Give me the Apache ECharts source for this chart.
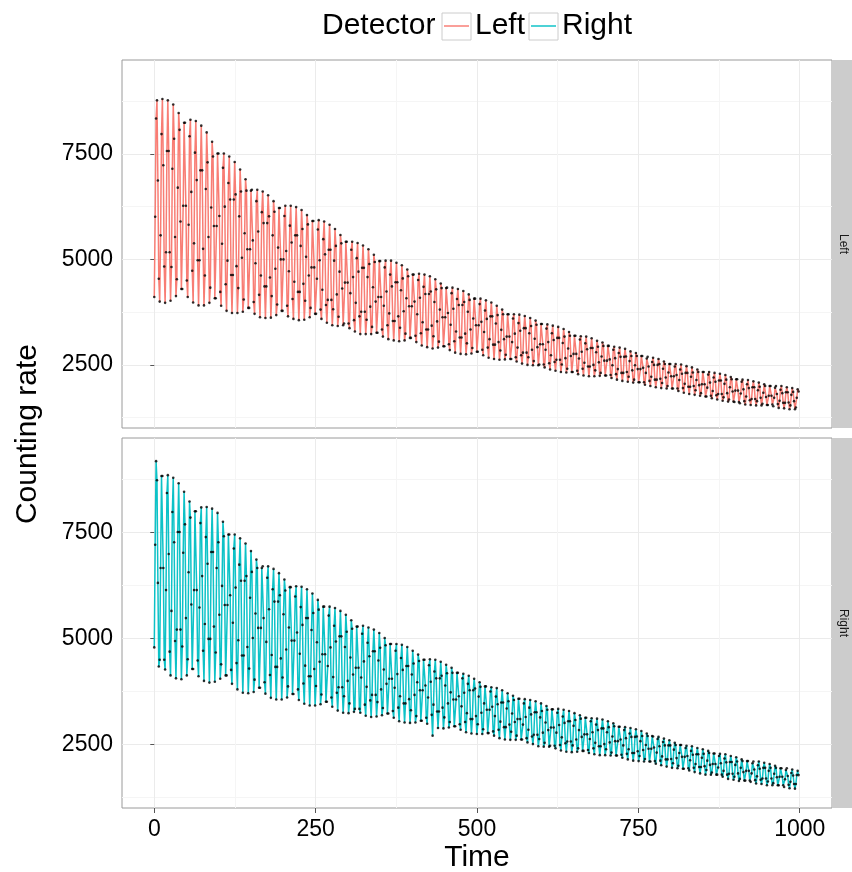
<!DOCTYPE html>
<html>
<head>
<meta charset="utf-8">
<script src="https://cdn.jsdelivr.net/npm/echarts@6/dist/echarts.min.js"></script>
<style>
  html, body { margin: 0; padding: 0; background: #ffffff; }
  #chart { width: 852px; height: 872px; }
</style>
</head>
<body>
<div id="chart"></div>
<script>
// Counting rate of the two detectors, one reading every sampleStep time units starting at 0.
const detectors = ['Left', 'Right'];
const sampleStep = 1.4;

const leftCounts = [
  4110,6010,8340,8770,6870,4540, 4000,5570,7970,8800,7230,4830, 3970,5170,7570,8770,7570,5170, 4020,4820,7150,8670,7860,5530,
  4130,4530,6700,8470,8070,5900, 4300,4300,6270,8240,8240,6270, 4500,4110,5820,7920,8310,6600, 4730,3980,5380,7530,8280,6880,
  4980,3910,4980,7110,8170,7110, 5250,3910,4620,6670,8010,7300, 5530,3970,4330,6230,7790,7440, 5790,4080,4080,5790,7510,7510,
  6030,4230,3900,5370,7170,7510, 6250,4410,3780,4970,6810,7440, 6420,4630,3730,4630,6420,7310, 6540,4840,3730,4320,6020,7130,
  6610,5040,3760,4050,5620,6900, 6630,5240,3850,3850,5240,6630, 6650,5450,3990,3710,4910,6380, 6650,5660,4160,3630,4620,6120,
  6610,5860,4360,3610,4360,5860, 6520,6020,4570,3620,4130,5570, 6380,6130,4780,3680,3930,5280, 6220,6220,5000,3780,3780,5000,
  6030,6270,5200,3900,3650,4720, 5800,6270,5400,4060,3590,4470, 5570,6240,5570,4230,3560,4230, 5320,6170,5720,4420,3570,4020,
  5060,6050,5830,4620,3630,3850, 4810,5910,5910,4810,3710,3710, 4540,5710,5930,4980,3810,3590, 4280,5480,5900,5120,3920,3500,
  4040,5230,5820,5230,4040,3440, 3820,4970,5720,5320,4170,3420, 3640,4710,5580,5380,4310,3440, 3480,4450,5420,5420,4450,3480,
  3370,4200,5230,5420,4580,3560, 3290,3970,5030,5390,4710,3650, 3230,3760,4800,5330,4800,3760, 3230,3570,4580,5240,4890,3880,
  3230,3400,4340,5110,4940,4000, 3260,3260,4110,4960,4960,4110, 3340,3170,3900,4810,4970,4240, 3440,3110,3720,4640,4970,4360,
  3540,3080,3540,4460,4920,4460, 3650,3060,3380,4270,4860,4550, 3770,3080,3240,4080,4760,4600, 3890,3140,3140,3890,4640,4640,
  4000,3190,3040,3700,4510,4660, 4090,3250,2960,3510,4350,4640, 4180,3340,2920,3340,4180,4600, 4240,3430,2890,3180,3990,4530,
  4290,3530,2910,3050,3810,4430, 4320,3630,2940,2940,3630,4320, 4330,3730,2990,2850,3450,4200, 4330,3830,3060,2790,3290,4060,
  4300,3920,3150,2760,3150,3920, 4250,3990,3240,2750,3010,3760, 4170,4040,3340,2770,2900,3600, 4070,4070,3440,2810,2810,3440,
  3940,4070,3520,2860,2730,3280, 3790,4030,3590,2910,2670,3110, 3650,3980,3650,2980,2640,2980, 3480,3900,3680,3040,2620,2840,
  3330,3810,3700,3110,2630,2740, 3170,3700,3700,3170,2640,2640, 3040,3600,3700,3240,2680,2580, 2910,3490,3690,3310,2730,2530,
  2790,3370,3660,3370,2790,2500, 2680,3250,3610,3420,2860,2490, 2590,3120,3550,3450,2920,2490, 2510,2990,3470,3470,2990,2510,
  2440,2860,3360,3460,3040,2540, 2390,2730,3250,3430,3090,2570, 2360,2620,3140,3400,3140,2620, 2330,2510,3020,3350,3170,2660,
  2320,2410,2890,3280,3190,2710, 2330,2330,2760,3190,3190,2760, 2360,2280,2650,3100,3180,2810, 2410,2250,2550,3010,3170,2870,
  2460,2230,2460,2900,3130,2900, 2500,2230,2370,2800,3070,2930, 2560,2240,2310,2700,3030,2950, 2600,2250,2250,2600,2950,2950,
  2630,2260,2190,2490,2860,2930, 2660,2280,2150,2400,2780,2910, 2690,2310,2120,2310,2690,2880, 2700,2330,2100,2220,2590,2820,
  2710,2370,2080,2150,2490,2780, 2710,2400,2090,2090,2400,2710, 2710,2430,2090,2030,2310,2650, 2690,2460,2120,2000,2220,2570,
  2670,2500,2150,1970,2150,2500, 2640,2520,2170,1950,2070,2410, 2580,2520,2200,1940,2000,2320, 2520,2520,2230,1940,1940,2230,
  2460,2520,2260,1940,1880,2140, 2390,2510,2290,1950,1840,2050, 2310,2470,2310,1980,1810,1980, 2220,2440,2320,2000,1790,1900,
  2140,2390,2330,2020,1770,1830, 2040,2330,2330,2040,1750,1750, 1960,2270,2330,2080,1770,1710, 1880,2200,2310,2100,1780,1680,
  1810,2130,2290,2130,1810,1650, 1730,2050,2260,2150,1830,1630, 1680,1970,2210,2160,1870,1630, 1620,1890,2160,2160,1890,1620,
  1590,1820,2100,2150,1920,1640, 1560,1750,2040,2140,1950,1660, 1550,1690,1970,2110,1970,1690, 1540,1640,1900,2080,1980,1720,
  1540,1580,1840,2040,2000,1740, 1550,1550,1770,2000,2000,1770, 1560,1520,1720,1960,2000,1810, 1570,1480,1650,1910,2000,1830,
  1600,1470,1600,1850,1970,1850, 1610,1450,1540,1790,1950,1860, 1640,1450,1490,1720,1920,1870
];

const rightCounts = [
  4790,7210,9180,8730,6310,4340, 4500,6660,8830,8830,6660,4500, 4270,6140,8430,8850,6990,4690, 4130,5650,7980,8790,7270,4940,
  4060,5210,7510,8660,7510,5210, 4040,4810,7020,8460,7690,5480, 4130,4510,6560,8230,7850,5800, 4280,4280,6140,8000,8000,6140,
  4480,4110,5730,7720,8090,6470, 4710,4000,5340,7390,8100,6760, 4990,3960,4990,7040,8060,7040, 5280,3980,4670,6660,7960,7270,
  5560,4050,4390,6240,7750,7410, 5790,4130,4130,5790,7450,7450, 6020,4260,3930,5370,7120,7450, 6200,4420,3800,4960,6740,7360,
  6360,4600,3720,4600,6360,7240, 6470,4800,3710,4290,5960,7060, 6570,5010,3740,4030,5590,6860, 6660,5250,3840,3840,5250,6660,
  6700,5480,3970,3700,4920,6430, 6700,5690,4140,3600,4610,6160, 6640,5870,4330,3560,4330,5870, 6540,6020,4530,3560,4080,5570,
  6390,6130,4740,3610,3870,5260, 6210,6210,4950,3690,3690,4950, 5990,6230,5140,3800,3550,4640, 5740,6220,5320,3940,3460,4360,
  5480,6160,5480,4110,3420,4110, 5200,6060,5600,4280,3420,3880, 4910,5910,5680,4450,3450,3680, 4630,5750,5750,4630,3510,3510,
  4350,5540,5750,4790,3610,3390, 4090,5300,5720,4930,3720,3300, 3850,5050,5650,5050,3850,3250, 3640,4800,5560,5160,4000,3240,
  3470,4550,5430,5230,4150,3270, 3340,4310,5280,5280,4310,3340, 3250,4080,5110,5300,4460,3440, 3180,3860,4900,5260,4580,3540,
  3150,3670,4700,5210,4700,3670, 3160,3500,4480,5130,4780,3800, 3190,3360,4270,5010,4840,3930, 3230,3230,4050,4870,4870,4050,
  3290,3130,3840,4710,4870,4160, 3370,3050,3640,4540,4850,4260, 3470,3020,3470,4350,4800,4350, 3570,3010,3310,4150,4710,4410,
  3670,3020,3170,3970,4620,4470, 3780,3060,3060,3780,4500,4500, 3890,3130,2990,3610,4370,4510, 3980,3200,2710,3440,4220,4500,
  4060,3280,2890,3280,4060,4450, 4120,3370,2880,3140,3890,4380, 4180,3470,2900,3030,3730,4310, 4190,3560,2930,2930,3560,4190,
  4190,3640,2980,2850,3400,4060, 4170,3720,3030,2790,3240,3930, 4120,3780,3100,2760,3100,3780, 4050,3820,3170,2750,2980,3630,
  3970,3860,3250,2750,2860,3470, 3870,3870,3320,2770,2770,3320, 3750,3850,3390,2810,2710,3170, 3630,3830,3450,2850,2650,3040,
  3490,3780,3490,2910,2620,2910, 3350,3710,3520,2970,2610,2800, 3230,3650,3550,3030,2610,2710, 3100,3580,3580,3100,2620,2620,
  2970,3470,3570,3150,2650,2550, 2850,3370,3550,3210,2690,2510, 2730,3260,3520,3260,2730,2460, 2630,3140,3470,3290,2780,2450,
  2540,3020,3410,3320,2840,2450, 2470,2900,3330,3330,2900,2470, 2410,2780,3250,3340,2960,2490, 2360,2670,3160,3320,3010,2530,
  2330,2570,3050,3290,3050,2570, 2320,2480,2940,3240,3080,2620, 2330,2410,2840,3190,3110,2680, 2350,2350,2740,3130,3130,2740,
  2370,2300,2630,3050,3120,2790, 2410,2270,2540,2970,3110,2840, 2460,2250,2460,2880,3090,2880, 2510,2250,2390,2790,3050,2910,
  2550,2240,2310,2690,3000,2930, 2580,2240,2240,2580,2920,2920, 2620,2260,2190,2480,2840,2910, 2650,2280,2150,2390,2760,2890,
  2680,2300,2120,2300,2680,2860, 2690,2340,2110,2230,2580,2820, 2700,2370,2100,2160,2490,2760, 2700,2400,2100,2100,2400,2700,
  2690,2430,2110,2050,2310,2630, 2680,2460,2120,2010,2220,2560, 2640,2480,2150,1980,2150,2480, 2600,2480,2160,1950,2060,2380,
  2540,2490,2180,1940,2000,2300, 2490,2490,2210,1930,1930,2210, 2420,2470,2230,1940,1890,2130, 2350,2460,2260,1950,1850,2040,
  2270,2420,2270,1970,1820,1970, 2190,2390,2280,1990,1790,1900, 2120,2350,2300,2020,1790,1840, 2040,2290,2290,2040,1790,1790,
  1960,2230,2280,2060,1790,1740, 1880,2170,2270,2080,1790,1690, 1810,2090,2230,2090,1810,1670, 1740,2020,2200,2100,1820,1640,
  1690,1950,2150,2110,1850,1650, 1650,1880,2110,2110,1880,1650, 1620,1820,2060,2100,1910,1660, 1580,1750,2010,2100,1930,1670,
  1570,1700,1950,2070,1950,1700, 1540,1630,1880,2040,1950,1700, 1540,1590,1810,2000,1950,1730, 1540,1540,1740,1940,1940,1740,
  1540,1500,1680,1900,1940,1760, 1550,1470,1620,1830,1910,1770, 1570,1460,1570,1780,1880,1780
];

const timeTicks = [0, 250, 500, 750, 1000];
const timeMinorTicks = [125, 375, 625, 875];
const rateTicks = [2500, 5000, 7500];
const rateMinorTicks = [1250, 3750, 6250, 8750];

const detectorColors = { Left: '#F8766D', Right: '#00BFC4' };
const countsByDetector = { Left: leftCounts, Right: rightCounts };

const timeRange = [-50, 1050];
const rateRange = [1004, 9726];

const FONT = "'Liberation Sans', Arial, Helvetica, sans-serif";
const tickSize = 23;
const titleSize = 30;
const stripSize = 12;

const panels = [
  { top: 60, height: 368 },
  { top: 438, height: 370 }
];
const plotLeft = 122;
const plotWidth = 710;

function toPairs(values) {
  return values.map((v, i) => [i * sampleStep, v]);
}

const grid = panels.map(p => ({
  left: plotLeft, top: p.top, width: plotWidth, height: p.height,
  show: true, backgroundColor: '#ffffff', borderColor: '#9a9a9a', borderWidth: 1, z: 0
}));

const plainNumber = v => String(v);

const xAxis = [];
const yAxis = [];
panels.forEach((p, g) => {
  const isBottom = g === panels.length - 1;
  xAxis.push({
    type: 'value', gridIndex: g, min: timeRange[0], max: timeRange[1], position: 'bottom',
    axisLine: { show: false },
    axisTick: { show: isBottom, customValues: timeTicks, length: 5, lineStyle: { color: '#555', width: 1 } },
    axisLabel: { show: isBottom, customValues: timeTicks, formatter: plainNumber, fontSize: tickSize, color: '#000', fontFamily: FONT, margin: 10 },
    splitLine: { show: true, lineStyle: { color: '#EBEBEB', width: 1 } }
  });
  xAxis.push({
    type: 'value', gridIndex: g, min: timeRange[0], max: timeRange[1], position: 'top',
    axisLine: { show: false },
    axisTick: { show: false, customValues: timeMinorTicks },
    axisLabel: { show: false, customValues: timeMinorTicks },
    splitLine: { show: true, lineStyle: { color: '#F5F5F5', width: 1 } }
  });
  yAxis.push({
    type: 'value', gridIndex: g, min: rateRange[0], max: rateRange[1], position: 'left',
    axisLine: { show: false },
    axisTick: { show: true, customValues: rateTicks, length: 4, lineStyle: { color: '#555', width: 1 } },
    axisLabel: { show: true, customValues: rateTicks, formatter: plainNumber, fontSize: tickSize, color: '#000', fontFamily: FONT, margin: 9 },
    splitLine: { show: true, lineStyle: { color: '#EBEBEB', width: 1 } }
  });
  yAxis.push({
    type: 'value', gridIndex: g, min: rateRange[0], max: rateRange[1], position: 'right',
    axisLine: { show: false },
    axisTick: { show: false, customValues: rateMinorTicks },
    axisLabel: { show: false, customValues: rateMinorTicks },
    splitLine: { show: true, lineStyle: { color: '#F5F5F5', width: 1 } }
  });
});

const series = [];
detectors.forEach((name, g) => {
  const pairs = toPairs(countsByDetector[name]);
  series.push({
    name, type: 'line', xAxisIndex: g * 2, yAxisIndex: g * 2, data: pairs,
    showSymbol: false, silent: true, animation: false, z: 3,
    lineStyle: { color: detectorColors[name], width: 1.5, opacity: 0.95 }
  });
  series.push({
    name: name + ' points', type: 'scatter', xAxisIndex: g * 2, yAxisIndex: g * 2, data: pairs,
    symbolSize: 2.6, silent: true, animation: false, z: 4,
    itemStyle: { color: '#000000' }
  });
});

// facet strips, axis titles and legend
const graphic = [];
detectors.forEach((name, g) => {
  const p = panels[g];
  graphic.push({
    type: 'rect', shape: { x: plotLeft + plotWidth + 1, y: p.top, width: 20, height: p.height },
    style: { fill: '#CCCCCC' }, silent: true
  });
  graphic.push({
    type: 'text', x: plotLeft + plotWidth + 11, y: p.top + p.height / 2, rotation: -Math.PI / 2,
    style: { text: name, fontSize: stripSize, fontFamily: FONT, fill: '#1A1A1A', align: 'center', verticalAlign: 'middle' },
    silent: true
  });
});
graphic.push({
  type: 'text', x: plotLeft + plotWidth / 2, y: 858,
  style: { text: 'Time', fontSize: titleSize, fontFamily: FONT, fill: '#000', align: 'center', verticalAlign: 'middle' }
});
graphic.push({
  type: 'text', x: 28, y: 434, rotation: Math.PI / 2,
  style: { text: 'Counting rate', fontSize: titleSize, fontFamily: FONT, fill: '#000', align: 'center', verticalAlign: 'middle' }
});

const legendY = 26;
graphic.push({
  type: 'text', x: 322, y: legendY,
  style: { text: 'Detector', fontSize: titleSize, fontFamily: FONT, fill: '#000', align: 'left', verticalAlign: 'middle' }
});
const legendItems = [
  { name: 'Left', boxX: 442, textX: 475 },
  { name: 'Right', boxX: 529, textX: 562 }
];
legendItems.forEach(item => {
  graphic.push({
    type: 'rect', shape: { x: item.boxX, y: legendY - 13, width: 29, height: 27 },
    style: { fill: '#FFFFFF', stroke: '#CCCCCC', lineWidth: 1 }
  });
  graphic.push({
    type: 'line', shape: { x1: item.boxX + 2, y1: legendY, x2: item.boxX + 27, y2: legendY },
    style: { stroke: detectorColors[item.name], lineWidth: 1.4 }
  });
  graphic.push({
    type: 'text', x: item.textX, y: legendY,
    style: { text: item.name, fontSize: titleSize, fontFamily: FONT, fill: '#000', align: 'left', verticalAlign: 'middle' }
  });
});

const chart = echarts.init(document.getElementById('chart'), null, { renderer: 'canvas' });
chart.setOption({
  animation: false,
  backgroundColor: '#ffffff',
  grid, xAxis, yAxis, series, graphic
});
</script>
</body>
</html>
